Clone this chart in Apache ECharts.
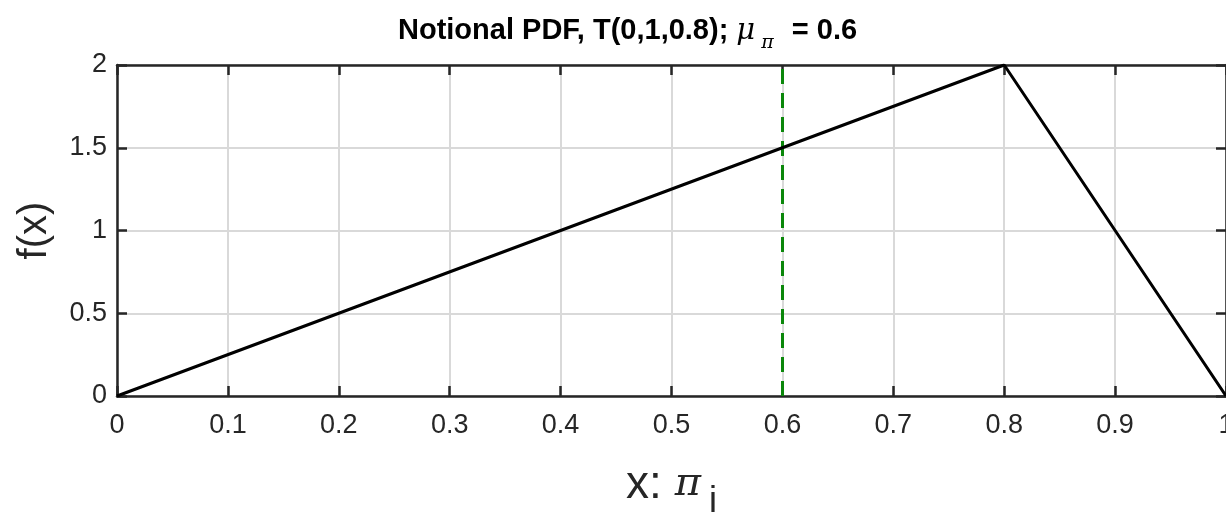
<!DOCTYPE html>
<html>
<head>
<meta charset="utf-8">
<script src="https://cdn.jsdelivr.net/npm/echarts@6/dist/echarts.min.js"></script>
<style>
  html, body { margin: 0; padding: 0; background: #fff; }
  #chart { width: 1226px; height: 519px; }
</style>
</head>
<body>
<div id="chart"></div>
<script>
// triangular pdf T(0,1,0.8)
const xs = [0, 0.8, 1];
const fx = [0, 2, 0];
const meanValue = 0.6;

const pdfData = xs.map((x, i) => [x, fx[i]]);

const chart = echarts.init(document.getElementById('chart'));
const font = 'Liberation Sans, Arial, Helvetica, sans-serif';
const ink = '#262626';

// box axes (top / right) just mirror the ticks
const boxAxis = {
  axisLine: { show: true, onZero: false, lineStyle: { color: ink, width: 2.5 } },
  axisTick: { show: true, inside: true, length: 10, lineStyle: { color: ink, width: 2.5 } },
  axisLabel: { show: false },
  splitLine: { show: false }
};

const option = {
  animation: false,
  title: {
    text: '{t|Notional PDF, T(0,1,0.8); }{mu|μ}{sub|π}{t| = 0.6}',
    left: 393,
    top: 8,
    textStyle: {
      rich: {
        t: { fontFamily: font, fontWeight: 'bold', fontSize: 29, color: '#000', lineHeight: 36 },
        mu: { fontFamily: 'DejaVu Serif, serif', fontStyle: 'italic', fontWeight: 'normal', fontSize: 29, color: '#000', lineHeight: 36 },
        sub: { fontFamily: 'DejaVu Serif, serif', fontStyle: 'italic', fontWeight: 'normal', fontSize: 19, color: '#000', lineHeight: 36, padding: [24, 10, 0, 6] }
      }
    }
  },
  grid: { left: 117, right: 0, top: 65, bottom: 123, outerBoundsMode: 'none', containLabel: false },
  xAxis: [
    {
      type: 'value', min: 0, max: 1, interval: 0.1,
      name: '{a|x: }{b|π}{c|i}',
      nameLocation: 'middle', nameGap: 64,
      nameTextStyle: {
        rich: {
          a: { fontFamily: font, fontSize: 46, color: ink, lineHeight: 50 },
          b: { fontFamily: 'DejaVu Serif, serif', fontStyle: 'italic', fontSize: 40, color: ink, lineHeight: 50 },
          c: { fontFamily: font, fontSize: 36, color: ink, lineHeight: 50, padding: [34, 0, 0, 8] }
        }
      },
      axisLine: { show: true, lineStyle: { color: ink, width: 2.5 } },
      axisTick: { show: true, inside: true, length: 10, lineStyle: { color: ink, width: 2.5 } },
      axisLabel: { fontFamily: font, fontSize: 27, color: ink, margin: 16 },
      splitLine: { show: true, lineStyle: { color: '#d9d9d9', width: 2 } }
    },
    Object.assign({ type: 'value', position: 'top', min: 0, max: 1, interval: 0.1 }, boxAxis)
  ],
  yAxis: [
    {
      type: 'value', min: 0, max: 2, interval: 0.5,
      name: 'f(x)',
      nameLocation: 'middle', nameGap: 62,
      nameTextStyle: { fontFamily: font, fontSize: 40, color: ink },
      axisLine: { show: true, lineStyle: { color: ink, width: 2.5 } },
      axisTick: { show: true, inside: true, length: 10, lineStyle: { color: ink, width: 2.5 } },
      axisLabel: { fontFamily: font, fontSize: 27, color: ink, margin: 10 },
      splitLine: { show: true, lineStyle: { color: '#d9d9d9', width: 2 } }
    },
    Object.assign({ type: 'value', position: 'right', min: 0, max: 2, interval: 0.5 }, boxAxis)
  ],
  series: [
    {
      type: 'line',
      data: pdfData,
      symbol: 'none',
      lineStyle: { color: '#000', width: 3 },
      z: 5,
      markLine: {
        silent: true,
        symbol: 'none',
        label: { show: false },
        lineStyle: { color: '#0a870a', width: 3, type: [15, 9] },
        data: [{ xAxis: meanValue }]
      }
    }
  ]
};

chart.setOption(option);
</script>
</body>
</html>
